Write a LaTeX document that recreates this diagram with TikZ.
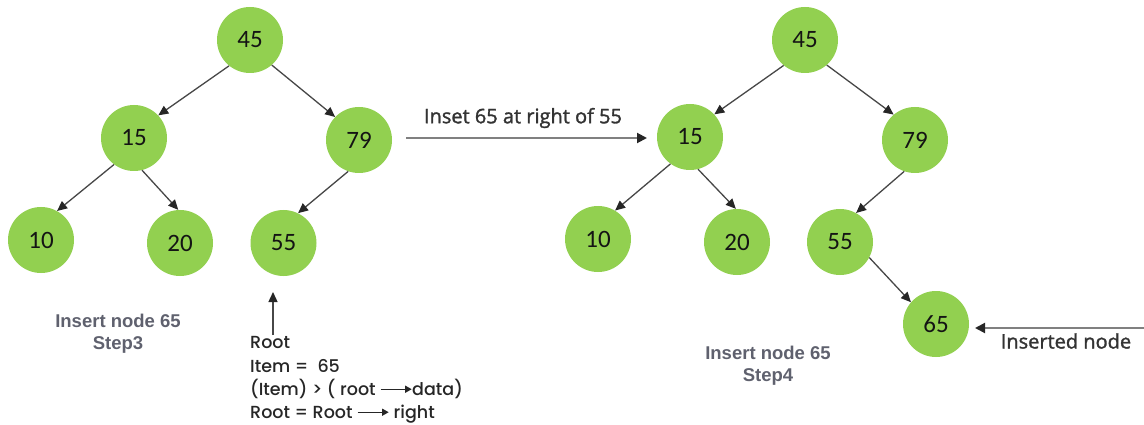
\documentclass[tikz,border=0pt]{standalone}
\usepackage{fontspec}
\setmainfont{Carlito}
\newfontfamily\codefont{Poppins}[UprightFont=* Medium]
\newfontfamily\labfont[FakeBold=1.5]{Open Sans}
\newfontfamily\capfont{Liberation Sans}
\usetikzlibrary{arrows.meta}
\definecolor{nodegreen}{HTML}{92D050}
\definecolor{capgray}{RGB}{95,97,110}
\newcommand{\codearrow}{\tikz[baseline=-0.33em]\draw[line width=1pt,-{Triangle[length=6.5pt,width=7pt]}] (0pt,0pt) -- (31pt,0pt);}
\begin{document}
\begin{tikzpicture}[x=1pt,y=-1pt,
  treenode/.style={circle, fill=nodegreen, minimum size=66pt, inner sep=0pt,
    font=\fontsize{25}{27}\selectfont, text=black!92},
  edge/.style={draw=black!72, line width=1.3pt, -{Triangle[length=10pt,width=9pt,color=black!85]}},
  bigarrow/.style={draw=black!50, line width=2pt, -{Triangle[length=10pt,width=10pt,color=black!85]}},
  caption/.style={font=\capfont\bfseries\fontsize{18.5}{22}\selectfont, text=capgray, align=center, inner sep=0pt},
  codeline/.style={font=\codefont\fontsize{17.5}{20}\selectfont, text=black!85, anchor=base west, inner sep=0pt},
  label/.style={font=\labfont\fontsize{20}{22}\selectfont, text=black!80, inner sep=0pt}
]
\useasboundingbox (0,0) rectangle (1144,425);
% left tree
\node[treenode] (L45) at (250,40) {45};
\node[treenode] (L15) at (134,138) {15};
\node[treenode] (L79) at (359,140) {79};
\node[treenode] (L10) at (41,240) {10};
\node[treenode] (L20) at (180,243) {20};
\node[treenode] (L55) at (283.5,243) {55};
\draw[edge] (L45.231) -- (L15.43);
\draw[edge] (L45.311) -- (L79.136);
\draw[edge] (L15.233) -- (L10.61);
\draw[edge] (L15.284) -- (L20.93);
\draw[edge] (L79.251) -- (L55.64);
% right tree
\node[treenode] (R45) at (805,40) {45};
\node[treenode] (R15) at (690,137) {15};
\node[treenode] (R79) at (915,140) {79};
\node[treenode] (R10) at (598,239) {10};
\node[treenode] (R20) at (737,242) {20};
\node[treenode] (R55) at (840,242) {55};
\node[treenode] (R65) at (936,324) {65};
\draw[edge] (R45.230) -- (R15.43);
\draw[edge] (R45.311) -- (R79.130);
\draw[edge] (R15.234) -- (R10.59);
\draw[edge] (R15.284) -- (R20.92);
\draw[edge] (R79.251) -- (R55.61);
\draw[edge] (R55.332) -- (R65.139);
% middle arrow
\coordinate (midStart) at (406,138);
\coordinate (midEnd) at (647,138);
\draw[bigarrow] (midStart) -- (midEnd);
\node[label] (midLabel) at (523,118) {Inset 65 at right of 55};
% inserted node arrow
\coordinate (insStart) at (1146,328);
\coordinate (insEnd) at (975,328);
\draw[bigarrow] (insStart) -- (insEnd);
\node[label] (insLabel) at (1066,341) {Inserted node};
% root arrow
\coordinate (rootStart) at (273,335);
\coordinate (rootTip) at (273,292);
\draw[edge] (rootStart) -- (rootTip);
% captions
\node[caption] (cap3) at (118,334) {Insert node 65\\Step3};
\node[caption] (cap4) at (768,366) {Insert node 65\\Step4};
% code block
\node[codeline] (code1) at (250,348) {Root};
\node[codeline] (code2) at (250,372) {Item =\ \ 65};
\node[codeline] (code3) at (250,395) {(Item) > ( root \codearrow data)};
\node[codeline] (code4) at (250,418) {Root = Root \codearrow\ right};
\end{tikzpicture}
\end{document}
